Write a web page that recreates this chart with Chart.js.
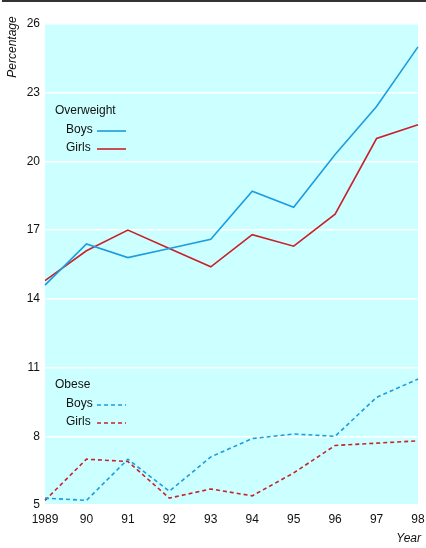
<!DOCTYPE html>
<html>
<head>
<meta charset="utf-8">
<script src="https://cdn.jsdelivr.net/npm/chart.js@4"></script>
<style>
  html, body { margin: 0; padding: 0; background: #fff; }
  #wrap { width: 426px; height: 548px; position: relative; }
</style>
</head>
<body>
<div id="wrap"><canvas id="myChart" width="426" height="548"></canvas></div>
<script>
// years along the bottom
const years = ['1989', '90', '91', '92', '93', '94', '95', '96', '97', '98'];

// percentages
const overBoys  = [14.6, 16.4, 15.8, 16.2, 16.6, 18.7, 18.0, 20.3, 22.4, 25.0];
const overGirls = [14.8, 16.1, 17.0, 16.2, 15.4, 16.8, 16.3, 17.7, 21.0, 21.6];
const obeseBoys  = [5.3, 5.2, 7.0, 5.6, 7.1, 7.9, 8.1, 8.0, 9.7, 10.5];
const obeseGirls = [5.2, 7.0, 6.9, 5.3, 5.7, 5.4, 6.4, 7.6, 7.7, 7.8];

const blue = '#1c9de0';
const red = '#c8232b';
const font = '"Liberation Sans", Arial, sans-serif';

// background, top rule, axis titles and the two hand-made legends
const decor = {
    id: 'decor',
    beforeDraw(chart) {
        const ctx = chart.ctx;
        const a = chart.chartArea;
        ctx.save();
        ctx.fillStyle = '#ccffff';
        ctx.fillRect(a.left, a.top, a.right - a.left, a.bottom - a.top);
        ctx.fillStyle = '#333';
        ctx.fillRect(2, 0, 424, 2);
        ctx.restore();
    },
    afterDraw(chart) {
        const ctx = chart.ctx;
        ctx.save();
        ctx.fillStyle = '#111';
        ctx.font = 'italic 12px ' + font;
        ctx.textBaseline = 'middle';
        ctx.textAlign = 'right';
        ctx.fillText('Year', 421, 539);
        ctx.translate(13, 47);
        ctx.rotate(-Math.PI / 2);
        ctx.textAlign = 'center';
        ctx.fillText('Percentage', 0, 0);
        ctx.restore();

        let legend = (title, y, dash) => {
            ctx.save();
            ctx.font = '12px ' + font;
            ctx.fillStyle = '#111';
            ctx.textBaseline = 'middle';
            ctx.textAlign = 'left';
            ctx.fillText(title, 55, y);
            ctx.fillText('Boys', 66, y + 19);
            ctx.fillText('Girls', 66, y + 37);
            ctx.lineWidth = 1.6;
            ctx.setLineDash(dash);
            ctx.strokeStyle = blue;
            ctx.beginPath(); ctx.moveTo(97, y + 20); ctx.lineTo(126, y + 20); ctx.stroke();
            ctx.strokeStyle = red;
            ctx.beginPath(); ctx.moveTo(97, y + 38); ctx.lineTo(126, y + 38); ctx.stroke();
            ctx.restore();
        };
        legend('Overweight', 111, []);
        legend('Obese', 385, [4, 3]);
    }
};

function makeSet(data, color, dashed) {
    return {
        data: data,
        borderColor: color,
        borderWidth: 1.6,
        borderDash: dashed ? [4, 3] : [],
        pointRadius: 0,
        tension: 0,
        fill: false
    };
}

const config = {
    type: 'line',
    data: {
        labels: years,
        datasets: [
            makeSet(overBoys, blue, false),
            makeSet(overGirls, red, false),
            makeSet(obeseBoys, blue, true),
            makeSet(obeseGirls, red, true)
        ]
    },
    options: {
        responsive: false,
        animation: false,
        layout: { padding: { top: 24, right: 8, left: 0, bottom: 0 } },
        plugins: { legend: { display: false }, tooltip: { enabled: false } },
        scales: {
            x: {
                offset: false,
                grid: { display: false, drawTicks: false },
                border: { display: false },
                ticks: { color: '#111', font: { family: font, size: 12 }, padding: 7, maxRotation: 0, autoSkip: false },
                afterFit(scale) {
                    scale.height = 43;
                    scale.paddingLeft = 0;
                    scale.paddingRight = 0;
                }
            },
            y: {
                min: 5,
                max: 26,
                grid: { color: '#ffffff', lineWidth: 1.5, drawTicks: false },
                border: { display: false },
                ticks: { stepSize: 3, color: '#111', font: { family: font, size: 12 }, padding: 5 },
                afterFit(scale) {
                    scale.width = 45;
                    scale.paddingTop = 0;
                    scale.paddingBottom = 0;
                }
            }
        }
    },
    plugins: [decor]
};

var myChart = new Chart(document.getElementById('myChart'), config);
</script>
</body>
</html>
